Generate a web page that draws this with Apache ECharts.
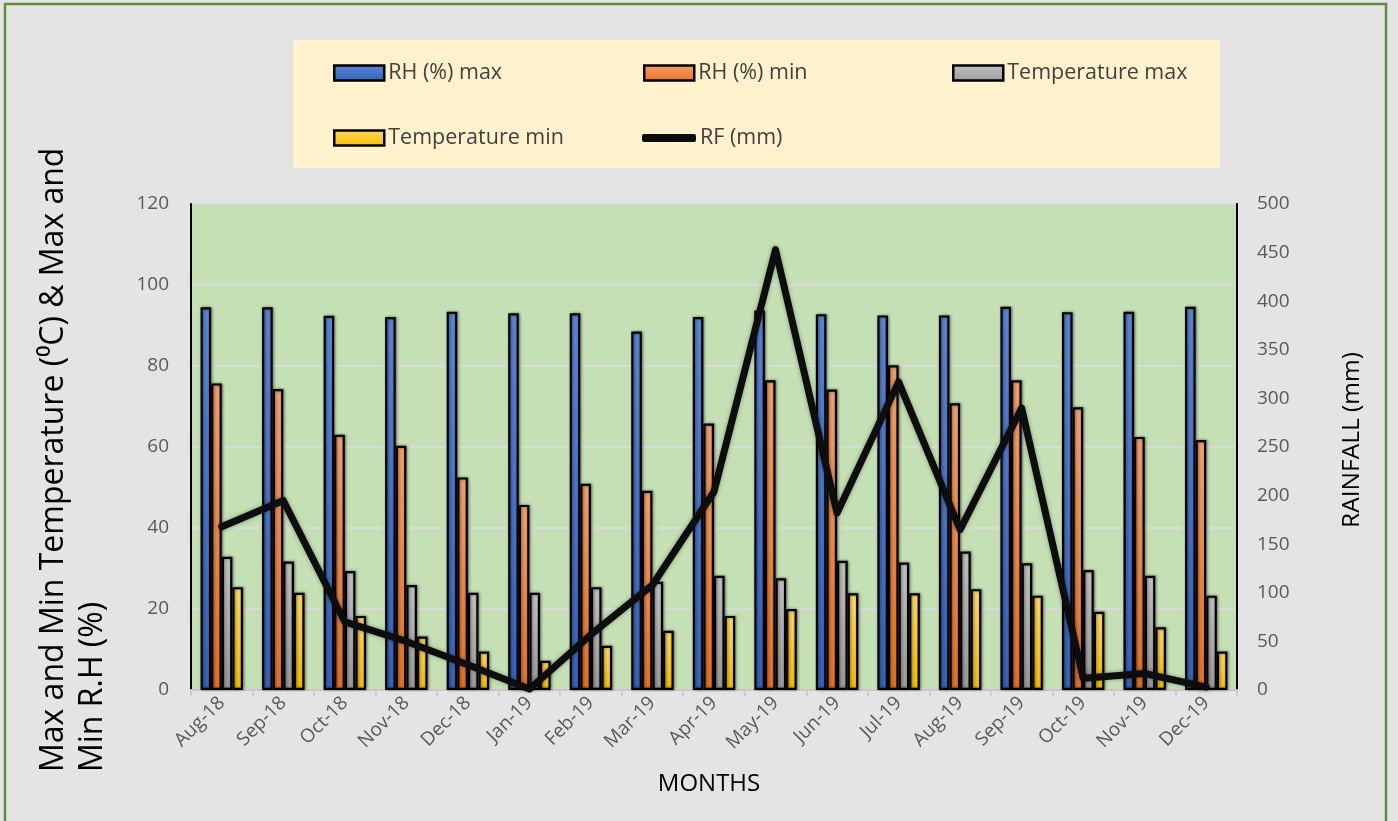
<!DOCTYPE html>
<html>
<head>
<meta charset="utf-8">
<script src="https://cdn.jsdelivr.net/npm/echarts@6/dist/echarts.min.js"></script>
<style>
  html, body { margin: 0; padding: 0; background: #e4e4e4; }
  #chart { width: 1398px; height: 821px; }
</style>
</head>
<body>
<div id="chart"></div>
<script>
// Monthly weather record, Aug 2018 – Dec 2019
const months = ['Aug-18', 'Sep-18', 'Oct-18', 'Nov-18', 'Dec-18', 'Jan-19', 'Feb-19', 'Mar-19', 'Apr-19',
                'May-19', 'Jun-19', 'Jul-19', 'Aug-19', 'Sep-19', 'Oct-19', 'Nov-19', 'Dec-19'];
const rhMax = [94.5, 94.5, 92.4, 92.1, 93.4, 93.0, 93.0, 88.5, 92.1, 93.7, 92.8, 92.5, 92.5, 94.6, 93.3, 93.4, 94.6];
const rhMin = [75.7, 74.3, 63.0, 60.3, 52.5, 45.7, 50.9, 49.2, 65.8, 76.5, 74.2, 80.2, 70.8, 76.5, 69.8, 62.5, 61.7];
const tempMax = [32.9, 31.7, 29.4, 25.9, 24.0, 24.0, 25.4, 26.7, 28.2, 27.6, 31.9, 31.5, 34.2, 31.3, 29.6, 28.2, 23.3];
const tempMin = [25.4, 24.0, 18.3, 13.2, 9.5, 7.2, 10.9, 14.6, 18.3, 20.0, 23.9, 23.9, 24.9, 23.3, 19.3, 15.5, 9.5];
const rainfall = [168, 195, 70, 50, 26, 1, 57, 108, 204, 453, 182, 317, 165, 290, 12, 17, 3];

const leftTicks = { min: 0, max: 120, interval: 20 };
const rightTicks = { min: 0, max: 500, interval: 50 };

const FONT = '"Open Sans", "Liberation Sans", sans-serif';
const LABEL_GREY = '#595959';

function grad(top, bottom) {
  return new echarts.graphic.LinearGradient(0, 0, 0, 1, [
    { offset: 0, color: top },
    { offset: 1, color: bottom }
  ]);
}

function barSeries(name, data, top, bottom) {
  return {
    name: name,
    type: 'bar',
    yAxisIndex: 0,
    data: data,
    barGap: '0%',
    barCategoryGap: '31%',
    itemStyle: {
      color: grad(top, bottom),
      borderColor: '#000',
      borderWidth: 2.2,
      shadowColor: 'rgba(0,0,0,0.45)',
      shadowBlur: 3,
      shadowOffsetX: 1,
      shadowOffsetY: 0
    }
  };
}

function legendAt(name, left, top, extra) {
  return Object.assign({
    data: [name],
    left: left,
    top: top,
    padding: 0,
    itemWidth: 50,
    itemHeight: 15,
    itemGap: 0,
    selectedMode: false,
    icon: 'rect',
    itemStyle: { borderColor: '#000', borderWidth: 2.5 },
    textStyle: { fontFamily: FONT, fontSize: 21.5, color: '#404040', padding: [0, 0, 0, -1] }
  }, extra || {});
}

const chart = echarts.init(document.getElementById('chart'), null, { renderer: 'canvas' });

chart.setOption({
  backgroundColor: '#e4e4e4',
  animation: false,
  grid: {
    left: 191, right: 161, top: 204, bottom: 131,
    show: true,
    backgroundColor: '#c5e0b4',
    borderColor: '#000',
    borderWidth: 2
  },
  legend: [
    legendAt('RH (%) max', 333, 62),
    legendAt('RH (%) min', 643, 62),
    legendAt('Temperature max', 952, 62),
    legendAt('Temperature min', 333, 127),
    legendAt('RF (mm)', 642, 127, { icon: 'roundRect', itemWidth: 54, itemHeight: 8, itemStyle: { borderWidth: 0 } })
  ],
  graphic: [
    {
      type: 'rect', z: -10, silent: true,
      shape: { x: 5, y: 4, width: 1381, height: 830 },
      style: { fill: '#e4e4e4', stroke: '#5e8f3c', lineWidth: 2.5 }
    },
    {
      type: 'rect', z: -5, silent: true,
      shape: { x: 293, y: 40, width: 927, height: 128 },
      style: { fill: '#fff2cc' }
    },
    {
      type: 'text', silent: true,
      x: 34, y: 772, rotation: Math.PI / 2,
      style: {
        text: 'Max and Min Temperature (\u2070C) & Max and\nMin R.H (%)',
        font: '32px ' + FONT,
        fill: '#000',
        align: 'left',
        verticalAlign: 'top',
        lineHeight: 39
      }
    },
    {
      type: 'text', silent: true,
      x: 1340, y: 440, rotation: Math.PI / 2,
      style: {
        text: 'RAINFALL (mm)',
        font: '24.5px ' + FONT,
        fill: '#000',
        align: 'center',
        verticalAlign: 'top'
      }
    },
    {
      type: 'text', silent: true,
      x: 709, y: 772,
      style: {
        text: 'MONTHS',
        font: '24px ' + FONT,
        fill: '#000',
        align: 'center',
        verticalAlign: 'top'
      }
    }
  ],
  xAxis: {
    type: 'category',
    data: months,
    axisLine: { lineStyle: { color: '#c8c8c8', width: 2 } },
    axisTick: { show: true, length: 6, lineStyle: { color: '#c8c8c8', width: 1.5 } },
    axisLabel: {
      rotate: 45,
      interval: 0,
      margin: 10,
      fontFamily: FONT,
      fontSize: 19,
      color: LABEL_GREY
    }
  },
  yAxis: [
    {
      type: 'value',
      min: leftTicks.min, max: leftTicks.max, interval: leftTicks.interval,
      axisLine: { show: true, lineStyle: { color: '#000', width: 2 } },
      axisTick: { show: false },
      splitLine: { lineStyle: { color: '#dadada', width: 2 } },
      axisLabel: { margin: 22, fontFamily: FONT, fontSize: 19, color: LABEL_GREY }
    },
    {
      type: 'value',
      position: 'right',
      min: rightTicks.min, max: rightTicks.max, interval: rightTicks.interval,
      axisLine: { show: true, lineStyle: { color: '#000', width: 2 } },
      axisTick: { show: false },
      splitLine: { show: false },
      axisLabel: { margin: 20, fontFamily: FONT, fontSize: 19, color: LABEL_GREY }
    }
  ],
  series: [
    barSeries('RH (%) max', rhMax, '#5b86d6', '#3563bd'),
    barSeries('RH (%) min', rhMin, '#f4a26d', '#e8711f'),
    barSeries('Temperature max', tempMax, '#c2c2c2', '#9a9a9a'),
    barSeries('Temperature min', tempMin, '#ffd863', '#f7bd00'),
    {
      name: 'RF (mm)',
      type: 'line',
      yAxisIndex: 1,
      data: rainfall,
      symbol: 'none',
      z: 5,
      lineStyle: {
        color: '#0d0d0d',
        width: 7,
        join: 'round',
        cap: 'round',
        shadowColor: 'rgba(0,0,0,0.35)',
        shadowBlur: 4
      },
      itemStyle: { color: '#0d0d0d' }
    }
  ]
});
</script>
</body>
</html>
